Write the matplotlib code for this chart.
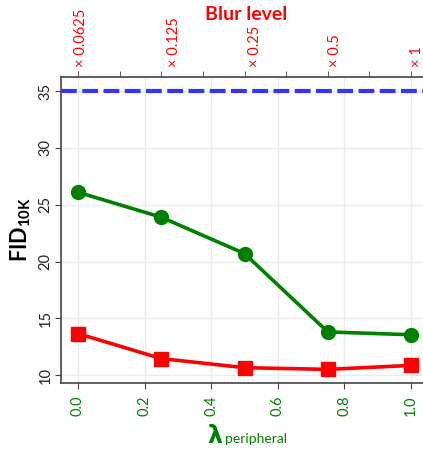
import matplotlib
matplotlib.use("Agg")
import matplotlib.pyplot as plt

# ---- data ----
lambda_peripheral = [0.0, 0.25, 0.5, 0.75, 1.0]
fid_green = [26.1, 23.9, 20.7, 13.8, 13.55]
fid_red = [13.65, 11.45, 10.65, 10.5, 10.85]
baseline_fid = 35.0
bottom_ticks = [0.0, 0.2, 0.4, 0.6, 0.8, 1.0]
bottom_labels = ["0.0", "0.2", "0.4", "0.6", "0.8", "1.0"]
blur_positions = [0.009, 0.288, 0.532, 0.772, 1.018]
blur_labels = ["× 0.0625", "× 0.125", "× 0.25", "× 0.5", "× 1"]
top_minor_ticks = [0.0, 0.125, 0.25, 0.375, 0.5, 0.625, 0.75, 0.875, 1.0]
y_ticks = [10, 15, 20, 25, 30, 35]

plt.rcParams['font.family'] = ['Lato', 'DejaVu Sans']
plt.rcParams['mathtext.fontset'] = 'custom'
plt.rcParams['mathtext.bf'] = 'Lato:bold'
plt.rcParams['mathtext.rm'] = 'Lato'

fig = plt.figure(figsize=(4.23, 4.5), dpi=100)
ax = fig.add_axes([61/423, 1-383/450, 367/423, 306/450])

ax.set_xlim(-0.051, 1.051)
ax.set_ylim(9.3, 36.25)

ax.grid(True, color='#ebebeb', lw=1)
ax.set_axisbelow(True)

ax.axhline(baseline_fid, color='#3535ff', lw=3, dashes=(3.8, 1.3), zorder=3)
ax.plot(lambda_peripheral, fid_green, color='#008000', lw=2.6, marker='o', ms=10, zorder=4)
ax.plot(lambda_peripheral, fid_red, color='#ff0000', lw=2.6, marker='s', ms=10, zorder=4)

spine_color = '#444444'
for s in ['left', 'bottom', 'top']:
    ax.spines[s].set_color(spine_color)
    ax.spines[s].set_linewidth(1.2)
ax.spines['right'].set_visible(False)

ax.set_xticks(bottom_ticks, bottom_labels)
ax.set_yticks(y_ticks)
ax.tick_params(axis='x', colors=spine_color, labelcolor='#008000', length=4, pad=5,
               labelrotation=90, labelsize=10.5)
ax.tick_params(axis='y', colors=spine_color, labelcolor='#222222', length=4, pad=2,
               labelrotation=90, labelsize=10.5)
for lab in ax.get_yticklabels():
    lab.set_va('center')

ax2 = ax.twiny()
ax2.set_xlim(ax.get_xlim())
ax2.set_xticks(blur_positions, blur_labels)
ax2.set_xticks(top_minor_ticks, minor=True)
ax2.tick_params(axis='x', which='major', length=0, pad=7, labelcolor='#ff0000',
                labelrotation=90, labelsize=10.5)
ax2.tick_params(axis='x', which='minor', length=4, colors=spine_color)
for s in ax2.spines.values():
    s.set_visible(False)

fig.text(246/423, 1-15/450, "Blur level", color='#ff0000', fontsize=14,
         fontweight='bold', ha='center', va='center')

ax.set_ylabel(r'$\mathbf{FID}_{\mathbf{10K}}$', fontsize=15.5)
ax.yaxis.set_label_coords((33-61)/367, 0.5)

fig.text(215/423, 1-436/450, "λ", color='#008000', fontsize=17,
         fontweight='bold', ha='center', va='center', family=['DejaVu Sans'])
fig.text(225/423, 1-443/450, "peripheral", color='#008000', fontsize=10,
         ha='left', va='baseline')

fig.savefig("out.png", dpi=100)
